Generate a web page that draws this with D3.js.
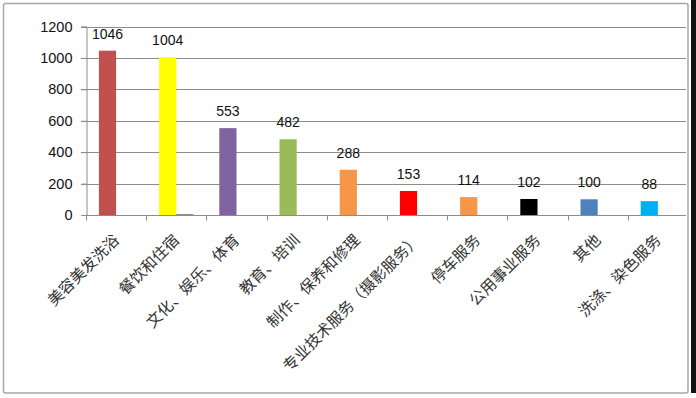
<!DOCTYPE html>
<html>
<head>
<meta charset="utf-8">
<script src="https://cdn.jsdelivr.net/npm/d3@7"></script>
<style>
  html, body { margin: 0; padding: 0; background: #fff; }
  svg { display: block; }
</style>
</head>
<body>
<div id="chart"></div>
<script>
// categories and values
var categories = ['美容美发洗浴', '餐饮和住宿', '文化、娱乐、体育', '教育、培训', '制作、保养和修理',
  '专业技术服务（摄影服务）', '停车服务', '公用事业服务', '其他', '洗涤、染色服务'];
var values = [1046, 1004, 553, 482, 288, 153, 114, 102, 100, 88];
// second series is almost empty in the source sheet
var values2 = [0, 4, 0, 0, 0, 0, 0, 0, 0, 0];
var barColors = ['#C0504D', '#FFFF00', '#8064A2', '#9BBB59', '#F79646', '#FF0000', '#F79646', '#000000', '#4F81BD', '#00B0F0'];
var yTicks = [0, 200, 400, 600, 800, 1000, 1200];

var W = 696, H = 398;
var margin = { top: 26.5, right: 10, bottom: 183, left: 86 };
var plotRight = 688;

var svg = d3.select('#chart').append('svg')
  .attr('width', W)
  .attr('height', H);

// chart border
svg.append('rect')
  .attr('x', 3.5).attr('y', 3.5)
  .attr('width', 684.5).attr('height', 389.5)
  .attr('rx', 2)
  .attr('fill', '#fff')
  .attr('stroke', '#a6a6a6')
  .attr('stroke-width', 1.5);

// dark strip on the right edge
svg.append('rect')
  .attr('x', 691).attr('y', 0)
  .attr('width', 5).attr('height', 393)
  .attr('fill', '#111');

var x = d3.scaleBand()
  .domain(categories)
  .range([margin.left, plotRight])
  .paddingInner(0).paddingOuter(0);

var x1 = d3.scaleBand()
  .domain(['s1', 's2'])
  .range([0, x.bandwidth()])
  .paddingInner(0).paddingOuter(0.75);

var y = d3.scaleLinear().domain([0, 1200]).range([215, margin.top]);

// gridlines
svg.append('g')
  .selectAll('line')
  .data(yTicks.slice(1))
  .join('line')
  .attr('x1', margin.left - 5)
  .attr('x2', 686)
  .attr('y1', function (d) { return Math.round(y(d)) + 0.5; })
  .attr('y2', function (d) { return Math.round(y(d)) + 0.5; })
  .attr('stroke', '#8c8c8c')
  .attr('stroke-width', 1);

// y axis
var yAxis = svg.append('g')
  .attr('transform', 'translate(' + (margin.left + 0.5) + ',0)')
  .call(d3.axisLeft(y).tickValues(yTicks).tickFormat(d3.format('d')).tickSize(5).tickPadding(9));
yAxis.select('.domain').attr('stroke', '#8c8c8c');
yAxis.selectAll('.tick line').attr('stroke', '#8c8c8c');
yAxis.selectAll('text')
  .style('font-family', '"Liberation Sans", Arial, sans-serif')
  .style('font-size', '14.5px')
  .attr('fill', '#111');

// bars
svg.append('g')
  .selectAll('rect')
  .data(values)
  .join('rect')
  .attr('x', function (d, i) { return x(categories[i]) + x1('s1'); })
  .attr('y', function (d) { return y(d); })
  .attr('width', x1.bandwidth())
  .attr('height', function (d) { return y(0) - y(d); })
  .attr('fill', function (d, i) { return barColors[i]; });

svg.append('g')
  .selectAll('rect')
  .data(values2)
  .join('rect')
  .attr('x', function (d, i) { return x(categories[i]) + x1('s2'); })
  .attr('y', function (d) { return y(d); })
  .attr('width', x1.bandwidth())
  .attr('height', function (d) { return y(0) - y(d); })
  .attr('fill', '#4b4b5e');

// x axis
var xAxis = svg.append('g')
  .attr('transform', 'translate(0,' + (y(0) + 0.5) + ')');
xAxis.append('line')
  .attr('x1', margin.left).attr('x2', 686)
  .attr('stroke', '#8c8c8c');
xAxis.selectAll('.xtick')
  .data(categories)
  .join('line')
  .attr('class', 'xtick')
  .attr('x1', function (d) { return Math.round(x(d)) + 0.5; })
  .attr('x2', function (d) { return Math.round(x(d)) + 0.5; })
  .attr('y1', 0).attr('y2', 5)
  .attr('stroke', '#8c8c8c');

// category labels, rotated
svg.append('g')
  .selectAll('text')
  .data(categories)
  .join('text')
  .attr('text-anchor', 'end')
  .attr('transform', function (d) {
    return 'translate(' + (x(d) + x.bandwidth() / 2 + 4) + ',241)rotate(-45)';
  })
  .style('font-family', '"Noto Sans CJK SC", sans-serif')
  .style('font-size', '15.5px')
  .attr('fill', '#333')
  .text(function (d) { return d; });

// value labels
svg.append('g')
  .selectAll('text')
  .data(values)
  .join('text')
  .attr('text-anchor', 'middle')
  .attr('x', function (d, i) { return x(categories[i]) + x1('s1') + x1.bandwidth() / 2; })
  .attr('y', function (d) { return y(d) - 12; })
  .style('font-family', '"Liberation Sans", Arial, sans-serif')
  .style('font-size', '14px')
  .attr('fill', '#111')
  .text(function (d) { return d; });
</script>
</body>
</html>
